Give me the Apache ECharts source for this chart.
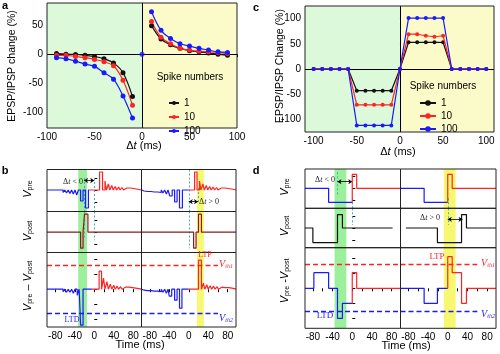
<!DOCTYPE html>
<html>
<head>
<meta charset="utf-8">
<script src="https://cdn.jsdelivr.net/npm/echarts@6/dist/echarts.min.js"></script>
<style>
html, body { margin: 0; padding: 0; background: #fff; }
#chart { width: 500px; height: 354px; }
</style>
</head>
<body>
<div id="chart"></div>
<script>
// ---- panel a: measured change vs delta t
var aDtNeg = [-90, -80, -70, -60, -50, -40, -30, -20, -10];
var aDtPos = [10, 20, 30, 40, 50, 60, 70, 80, 90];
var a1Neg = [1, 0, -0.5, -2, -4, -8, -15, -32, -73];
var a10Neg = [-2, -2, -4, -6, -9, -13, -20, -45, -88];
var a100Neg = [-6, -8, -12, -17, -21, -32, -43, -72, -110];
var a1Pos = [49, 26, 16, 10, 6, 4, 2, 0, -2];
var a10Pos = [56, 29, 18, 10, 7, 5, 4, 3, 1];
var a100Pos = [73, 41, 27, 18, 14, 10, 7, 4, 3];
var a100Zero = [[0, 0]];

// ---- panel c: rectangular window rule
var cDt = [-100, -90, -80, -70, -60, -50, -40, -30, -20, -10, 0, 10, 20, 30, 40, 50, 60, 70, 80, 90, 100];
var c1 = [0, 0, 0, 0, 0, -43, -43, -43, -43, -43, 0, 53, 53, 53, 53, 53, 0, 0, 0, 0, 0];
var c10 = [0, 0, 0, 0, 0, -71, -71, -71, -71, -71, 0, 69, 69, 66, 64, 66, 0, 0, 0, 0, 0];
var c100 = [0, 0, 0, 0, 0, -112, -112, -112, -112, -112, 0, 101, 101, 101, 101, 101, 0, 0, 0, 0, 0];
var spikeNames = ['1', '10', '100'];

// ---- panel b: pulse trains [start ms, end ms, height]
var bPreLBlue = [[-92, -88.5, -1.5], [-85, -81.5, -1.5], [-78, -74.5, -2], [-71, -67.5, -2], [-64, -60.5, -2.5], [-57, -53.5, -3], [-50, -46.5, -3.5], [-43, -39.5, -4], [-36, -32.5, -5], [-28, -23, -11], [-18, -12, -18]];
var bPreLRed = [[11, 17, 18], [22, 25, 9], [29, 32, 6], [36, 39, 4.5], [43, 46, 3.5], [50, 53, 3], [57, 60, 2.5], [64, 67, 2], [71, 74, 2], [78, 81, 1.5]];
var bPreRBlue = [[-95, -91.5, -1], [-88, -84.5, -1.5], [-81, -77.5, -1.5], [-74, -70.5, -2], [-67, -63.5, -2], [-60, -56.5, -2.5], [-53, -49.5, -3], [-46, -42.5, -4], [-39, -34, -6], [-29, -24, -12], [-19, -13, -18]];
var bPreRRed = [[12, 17, 18], [22, 25, 9], [29, 32, 6], [36, 39, 4.5], [43, 46, 3.5], [50, 53, 3], [57, 60, 2.5], [64, 67, 2], [71, 74, 2], [78, 81, 1.5], [85, 88, 1]];
var bPostL = [[-28, -23, -16], [-20, -13, 18]];
var bPostR = [[10, 15, -16], [20, 26, 18]];
var bDiffLBlue = [[-92, -88.5, -1.5], [-85, -81.5, -1.5], [-78, -74.5, -2], [-71, -67.5, -2], [-64, -60.5, -2.5], [-57, -53.5, -3], [-50, -46.5, -3], [-43, -39.5, -4], [-35, -31, -6], [-28, -23, -36]];
var bDiffLRed = [[10, 15, 18], [19, 22, 11], [26, 29, 7.5], [33, 36, 5], [40, 43, 4], [47, 50, 3], [54, 57, 2.5], [61, 64, 2], [68, 71, 2], [75, 78, 1.5], [82, 85, 1]];
var bDiffRBlue = [[-95, -91.5, -1], [-88, -84.5, -1.5], [-81, -77.5, -1.5], [-74, -70.5, -2], [-67, -63.5, -2], [-60, -56.5, -2.5], [-53, -49.5, -3], [-46, -42.5, -4], [-40, -35, -7], [-29, -24, -11], [-19, -14, -19]];
var bDiffRRed = [[20, 26, 29], [30, 33, 6], [37, 40, 4.5], [44, 47, 3.5], [51, 54, 3], [58, 61, 2.5], [65, 68, 2], [72, 75, 1.5], [79, 82, 1.5], [86, 89, 1]];

// ---- panel d: step waveforms [ms, level]
var dPreLBlue = [[-96, 0], [-48, 0], [-48, -14], [0, -14]];
var dPreLRed = [[0, -14], [0, 14], [9, 14], [9, 0], [98, 0]];
var dPreRBlue = [[-96, 0], [-48, 0], [-48, -14], [0, -14]];
var dPreRRed = [[0, -14], [0, 14], [9, 14], [9, 0], [98, 0]];
var dPostL = [[-96, 0], [-80, 0], [-80, -14.6], [-30, -14.6], [-30, 13.4], [-20, 13.4], [-20, 0], [82, 0]];
var dPostR = [[-85, 0], [-21, 0], [-21, -14.6], [28, -14.6], [28, 13.4], [38, 13.4], [38, 0], [98, 0]];
var dDiffLBlue = [[-96, 0], [-78, 0], [-78, 15.6], [-48, 15.6], [-48, 0], [-30, 0], [-30, -30], [-20, -30], [-20, -15], [0, -15]];
var dDiffLRed = [[0, -15], [0, 15.6], [9, 15.6], [9, 0], [98, 0]];
var dDiffRBlue = [[-96, 0], [-48, 0], [-48, -15], [-21, -15], [-21, 0], [0, 0]];
var dDiffRRed = [[0, 0], [0, 31.6], [9, 31.6], [9, 15.6], [28, 15.6], [28, -15], [38, -15], [38, 0], [98, 0]];

var timeTicks = [-80, -60, -40, -20, 0, 20, 40, 60, 80];
var timeLabels = [-80, -40, 0, 40, 80];

var FONT = 'Liberation Sans';
var SERIF = 'Liberation Serif';
var BLUE = '#1a1aff', RED = '#ff2424', DARKRED = '#8b1a1a', BLACK = '#111';
var TEAL = '#3fb3b3';
var GREEN_BG = '#dcf9da', YELLOW_BG = '#fbfbca';
var GREEN_BAND = '#9cf09c', YELLOW_BAND = '#f8f870';

function zip(xs, ys) {
    return xs.map(function (x, i) { return [x, ys[i]]; });
}

function pulseTrain(t0, t1, pulses) {
    var pts = [[t0, 0]];
    pulses.forEach(function (p) {
        pts.push([p[0], 0], [p[0], p[2]], [p[1], p[2]], [p[1], 0]);
    });
    pts.push([t1, 0]);
    return pts;
}

var grids = [], xAxes = [], yAxes = [], series = [];

function addGrid(g, xa, ya) {
    g.show = true;
    g.borderColor = '#222';
    g.borderWidth = 1;
    g.z = 10;
    grids.push(g);
    xa.gridIndex = grids.length - 1;
    ya.gridIndex = grids.length - 1;
    xAxes.push(xa);
    yAxes.push(ya);
    return grids.length - 1;
}

function plainAxis(min, max) {
    return {
        type: 'value', min: min, max: max,
        axisLine: { show: false }, splitLine: { show: false },
        axisTick: { show: false }, axisLabel: { show: false }
    };
}

function trace(gi, data, color, extra) {
    var s = {
        type: 'line', xAxisIndex: gi, yAxisIndex: gi, data: data,
        symbol: 'none', animation: false, silent: true, z: 5,
        lineStyle: { color: color, width: 1.2 }, itemStyle: { color: color }
    };
    for (var k in extra) s[k] = extra[k];
    return s;
}

function band(t1, t2, color) {
    return { silent: true, data: [[{ xAxis: t1, itemStyle: { color: color } }, { xAxis: t2 }]] };
}

function dash(t, y1, y2) {
    return [{ coord: [t, y1], symbol: 'none', lineStyle: { color: TEAL, type: [2, 2], width: 1 } },
            { coord: [t, y2], symbol: 'none' }];
}
function arrow(t1, t2, y) {
    return [{ coord: [t1, y], symbol: 'arrow', symbolSize: 4, lineStyle: { color: '#000', type: 'solid', width: 0.8 } },
            { coord: [t2, y], symbol: 'arrow', symbolSize: 4 }];
}
function thresh(t1, t2, y, color) {
    return [{ coord: [t1, y], symbol: 'none', lineStyle: { color: color, type: [5, 3], width: 1.3 } },
            { coord: [t2, y], symbol: 'none' }];
}
function marks(list) {
    return { silent: true, animation: false, label: { show: false }, data: list };
}

// ---------- panel a ----------
var ga = addGrid({ left: 47, top: 3, width: 190, height: 125 }, {
    type: 'value', min: -100, max: 100,
    axisLine: { show: false }, splitLine: { show: false },
    axisTick: { customValues: [-100, -75, -50, -25, 0, 25, 50, 75, 100], length: 3, lineStyle: { color: '#000' } },
    axisLabel: { customValues: [-100, -50, 0, 50, 100], fontFamily: FONT, fontSize: 10, color: '#000', margin: 4 }
}, {
    type: 'value', min: -127, max: 88,
    axisLine: { show: false }, splitLine: { show: false },
    axisTick: { customValues: [-100, -75, -50, -25, 0, 25, 50, 75], length: 3, lineStyle: { color: '#000' } },
    axisLabel: { customValues: [-100, -50, 0, 50], fontFamily: FONT, fontSize: 10, color: '#000', margin: 4 }
});

var aColors = [BLACK, RED, BLUE];
var aNeg = [a1Neg, a10Neg, a100Neg];
var aPos = [a1Pos, a10Pos, a100Pos];
for (var i = 0; i < 3; i++) {
    var optsA = { name: spikeNames[i], smooth: 0.35, symbol: 'circle', symbolSize: 5 };
    var sN = trace(ga, zip(aDtNeg, aNeg[i]), aColors[i], optsA);
    if (i === 0) {
        sN.markArea = { silent: true, data: [
            [{ xAxis: -100, itemStyle: { color: GREEN_BG } }, { xAxis: 0 }],
            [{ xAxis: 0, itemStyle: { color: YELLOW_BG } }, { xAxis: 100 }]
        ] };
        sN.markLine = { silent: true, symbol: 'none', label: { show: false }, animation: false,
            lineStyle: { color: '#000', type: 'solid', width: 1 },
            data: [{ xAxis: 0 }, { yAxis: 0 }] };
    }
    series.push(sN);
    series.push(trace(ga, zip(aDtPos, aPos[i]), aColors[i], optsA));
}
series.push(trace(ga, a100Zero, BLUE, { name: '100', type: 'scatter', symbol: 'circle', symbolSize: 5 }));

// ---------- panel c ----------
var gc = addGrid({ left: 305, top: 6, width: 189, height: 126 }, {
    type: 'value', min: -110, max: 109,
    axisLine: { show: false }, splitLine: { show: false },
    axisTick: { customValues: [-100, -75, -50, -25, 0, 25, 50, 75, 100], length: 3, lineStyle: { color: '#000' } },
    axisLabel: { customValues: [-100, -50, 0, 50, 100], fontFamily: FONT, fontSize: 10, color: '#000', margin: 4 }
}, {
    type: 'value', min: -125, max: 125,
    axisLine: { show: false }, splitLine: { show: false },
    axisTick: { customValues: [-100, -50, 0, 50, 100], length: 3, lineStyle: { color: '#000' } },
    axisLabel: { customValues: [-100, -50, 0, 50, 100], fontFamily: FONT, fontSize: 10, color: '#000', margin: 4 }
});
var cVals = [c1, c10, c100];
for (var j = 0; j < 3; j++) {
    var sC = trace(gc, zip(cDt, cVals[j]), aColors[j], { name: spikeNames[j] + ' ', symbol: 'circle', symbolSize: 4, z: 5 + j });
    if (j === 0) {
        sC.markArea = { silent: true, data: [
            [{ xAxis: -110, itemStyle: { color: GREEN_BG } }, { xAxis: 0 }],
            [{ xAxis: 0, itemStyle: { color: YELLOW_BG } }, { xAxis: 109 }]
        ] };
        sC.markLine = { silent: true, symbol: 'none', label: { show: false }, animation: false,
            lineStyle: { color: '#000', type: 'solid', width: 1 },
            data: [{ xAxis: 0 }, { yAxis: 0 }] };
    }
    series.push(sC);
}

// ---------- panels b and d (three rows, two columns each) ----------
function schematic(lefts, width, tops, heights, xr, yRanges) {
    var idx = [];
    for (var r = 0; r < 3; r++) {
        for (var c = 0; c < 2; c++) {
            var isBottom = r === 2;
            var xa = plainAxis(xr[0], xr[1]);
            if (isBottom) {
                xa.axisTick = { show: true, customValues: timeTicks, length: 3, lineStyle: { color: '#000' } };
                xa.axisLabel = { show: true, customValues: timeLabels, fontFamily: FONT, fontSize: 10, color: '#000', margin: 4 };
            }
            var ya = plainAxis(yRanges[r][0], yRanges[r][1]);
            if (c === 0) {
                var ticks = r === 2 ? [-30, -15, 0, 15, 30] : [-12, 0, 12];
                ya.axisTick = { show: true, inside: true, customValues: ticks, length: 3, lineStyle: { color: '#000' } };
            }
            idx.push(addGrid({ left: lefts[c], top: tops[r], width: width, height: heights[r] }, xa, ya));
        }
    }
    return idx;
}

var gb = schematic([47, 141.5], 94.5, [169.5, 211.5, 252.5], [42, 41, 74.5], [-97, 97],
    [[-21.5, 20.5], [-20.3, 20.7], [-37.8, 36.7]]);
var gd = schematic([305, 400.5], 95.5, [169, 208.3, 247.7], [39.3, 39.4, 80.6], [-96, 98],
    [[-20, 19.3], [-19.7, 19.7], [-40, 40.6]]);

// panel b traces
series.push(trace(gb[0], pulseTrain(-97, -10, bPreLBlue), BLUE, { markArea: band(-33, -15, GREEN_BAND),
    markLine: marks([dash(-21, 12, -21.5), dash(0, 12, -21.5), arrow(-21, 0, 9.5)]) }));
series.push(trace(gb[0], pulseTrain(-10, 97, bPreLRed), RED));
series.push(trace(gb[1], pulseTrain(-97, 0, bPreRBlue), BLUE, { markArea: band(17, 31, YELLOW_BAND),
    markLine: marks([dash(0, 20.5, -21.5), dash(19, 2, -13), arrow(0, 19, -11.7)]) }));
series.push(trace(gb[1], pulseTrain(0, 97, bPreRRed), RED));
series.push(trace(gb[2], pulseTrain(-97, 97, bPostL), DARKRED, { markArea: band(-33, -15, GREEN_BAND),
    markLine: marks([dash(-21, 20.7, -6), dash(0, 20.7, -8)]) }));
series.push(trace(gb[3], pulseTrain(-97, 97, bPostR), DARKRED, { markArea: band(17, 31, YELLOW_BAND),
    markLine: marks([dash(0, 20.7, -16)]) }));
series.push(trace(gb[4], pulseTrain(-97, -5, bDiffLBlue), BLUE, { markArea: band(-33, -15, GREEN_BAND),
    markLine: marks([thresh(-97, 97, 24.3, RED), thresh(-97, 97, -24, BLUE)]) }));
series.push(trace(gb[4], pulseTrain(-5, 97, bDiffLRed), RED));
series.push(trace(gb[5], pulseTrain(-97, 0, bDiffRBlue), BLUE, { markArea: band(17, 31, YELLOW_BAND),
    markLine: marks([thresh(-97, 60, 24.3, RED), thresh(-97, 60, -24, BLUE)]) }));
series.push(trace(gb[5], pulseTrain(0, 97, bDiffRRed), RED));

// panel d traces
series.push(trace(gd[0], dPreLBlue, BLUE, { markArea: band(-36, -12, GREEN_BAND),
    markLine: marks([dash(-30, 16, -8), dash(0, -10, -20), arrow(-30, 0, 6.6)]) }));
series.push(trace(gd[0], dPreLRed, RED));
series.push(trace(gd[1], dPreRBlue, BLUE, { markArea: band(-8, 16, YELLOW_BAND),
    markLine: marks([dash(0, -10, -20)]) }));
series.push(trace(gd[1], dPreRRed, RED));
series.push(trace(gd[2], dPostL, BLACK, { markArea: band(-36, -12, GREEN_BAND),
    markLine: marks([dash(0, 19.7, 3)]) }));
series.push(trace(gd[3], dPostR, BLACK, { markArea: band(-8, 16, YELLOW_BAND),
    markLine: marks([dash(0, 19.7, 3), arrow(0, 30, 8.7)]) }));
series.push(trace(gd[4], dDiffLBlue, BLUE, { markArea: band(-36, -12, GREEN_BAND),
    markLine: marks([thresh(-96, 98, 24.3, RED), thresh(-96, 98, -22.7, BLUE)]) }));
series.push(trace(gd[4], dDiffLRed, RED));
series.push(trace(gd[5], dDiffRBlue, BLUE, { markArea: band(-8, 16, YELLOW_BAND),
    markLine: marks([thresh(-96, 60, 24.3, RED), thresh(-96, 60, -22.7, BLUE)]) }));
series.push(trace(gd[5], dDiffRRed, RED));

// ---------- texts ----------
function txt(x, y, text, o) {
    o = o || {};
    return {
        type: 'text', x: x, y: y, rotation: o.rot || 0, z: 100, silent: true,
        style: {
            text: text, fill: o.color || '#000', font: (o.weight || 'normal') + ' ' + (o.size || 10) + 'px ' + (o.family || FONT),
            align: o.align || 'center', verticalAlign: 'middle', rich: o.rich
        }
    };
}
var vRich = function (color) {
    return {
        v: { fontFamily: FONT, fontStyle: 'italic', fontSize: 11, fill: color || '#000' },
        s: { fontFamily: FONT, fontSize: 7, fill: color || '#000', padding: [5, 0, 0, 0] },
        n: { fontFamily: FONT, fontSize: 11, fill: color || '#000' }
    };
};
var thRich = function (color) {
    return {
        v: { fontFamily: SERIF, fontStyle: 'italic', fontSize: 10, fill: color },
        s: { fontFamily: SERIF, fontStyle: 'italic', fontSize: 6, fill: color, padding: [4, 0, 0, 0] }
    };
};
var dtRich = {
    d: { fontFamily: SERIF, fontSize: 8, fill: '#222' },
    t: { fontFamily: SERIF, fontStyle: 'italic', fontSize: 8, fill: '#222' }
};
var axRich = {
    d: { fontFamily: FONT, fontSize: 11, fill: '#000' },
    t: { fontFamily: FONT, fontStyle: 'italic', fontSize: 11, fill: '#000' }
};
var R90 = Math.PI / 2;
var graphics = [
    txt(5, 6, 'a', { weight: 'bold', size: 11 }),
    txt(5, 171, 'b', { weight: 'bold', size: 11 }),
    txt(256, 8, 'c', { weight: 'bold', size: 11 }),
    txt(256, 171, 'd', { weight: 'bold', size: 11 }),
    txt(12, 66, 'EPSP/IPSP change (%)', { rot: R90, size: 10.5 }),
    txt(280, 66, 'EPSP/IPSP Change (%)', { rot: R90, size: 10.5 }),
    txt(144, 146, '{d|Δ}{t|t}{d| (ms)}', { rich: axRich }),
    txt(398, 152, '{d|Δ}{t|t}{d| (ms)}', { rich: axRich }),
    txt(190, 77, 'Spike numbers', { size: 10 }),
    txt(443, 86, 'Spike numbers', { size: 10 }),
    txt(140, 345, 'Time (ms)', { size: 11 }),
    txt(406, 346, 'Time (ms)', { size: 11 }),
    txt(28, 189, '{v|V}{s|pre}', { rot: R90, rich: vRich() }),
    txt(28, 231, '{v|V}{s|post}', { rot: R90, rich: vRich() }),
    txt(28, 286, '{v|V}{s|pre}{n| – }{v|V}{s|post}', { rot: R90, rich: vRich() }),
    txt(285, 187, '{v|V}{s|pre}', { rot: R90, rich: vRich() }),
    txt(285, 226, '{v|V}{s|post}', { rot: R90, rich: vRich() }),
    txt(285, 281, '{v|V}{s|pre}{n| -}{v|V}{s|post}', { rot: R90, rich: vRich() }),
    txt(73, 182, '{d|Δ}{t|t}{d| < 0}', { rich: dtRich }),
    txt(209, 202, '{d|Δ}{t|t}{d| > 0}', { rich: dtRich }),
    txt(325, 180, '{d|Δ}{t|t}{d| < 0}', { rich: dtRich }),
    txt(430, 218, '{d|Δ}{t|t}{d| > 0}', { rich: dtRich }),
    txt(72, 320, 'LTD', { family: SERIF, size: 8, color: BLUE }),
    txt(205, 255, 'LTP', { family: SERIF, size: 8, color: RED }),
    txt(325, 316, 'LTD', { family: SERIF, size: 9, color: BLUE }),
    txt(437, 257, 'LTP', { family: SERIF, size: 9, color: RED }),
    txt(226, 264, '{v|V}{s|th1}', { rich: thRich(RED) }),
    txt(226, 318, '{v|V}{s|th2}', { rich: thRich(BLUE) }),
    txt(488, 263, '{v|V}{s|th1}', { rich: thRich(RED) }),
    txt(488, 314, '{v|V}{s|th2}', { rich: thRich(BLUE) })
];

var chart = echarts.init(document.getElementById('chart'), null, { renderer: 'canvas' });
chart.setOption({
    animation: false,
    backgroundColor: '#fff',
    textStyle: { fontFamily: FONT },
    grid: grids,
    xAxis: xAxes,
    yAxis: yAxes,
    legend: [{
        data: spikeNames, orient: 'vertical', left: 163, top: 93,
        itemWidth: 10, itemHeight: 5, itemGap: 4, selectedMode: false,
        textStyle: { fontFamily: FONT, fontSize: 10, color: '#000', lineHeight: 8 }
    }, {
        data: spikeNames.map(function (n) { return n + ' '; }), orient: 'vertical', left: 414, top: 93,
        itemWidth: 16, itemHeight: 7, itemGap: 3, selectedMode: false,
        textStyle: { fontFamily: FONT, fontSize: 10, color: '#000', lineHeight: 8 }
    }],
    graphic: graphics,
    series: series
});
</script>
</body>
</html>
